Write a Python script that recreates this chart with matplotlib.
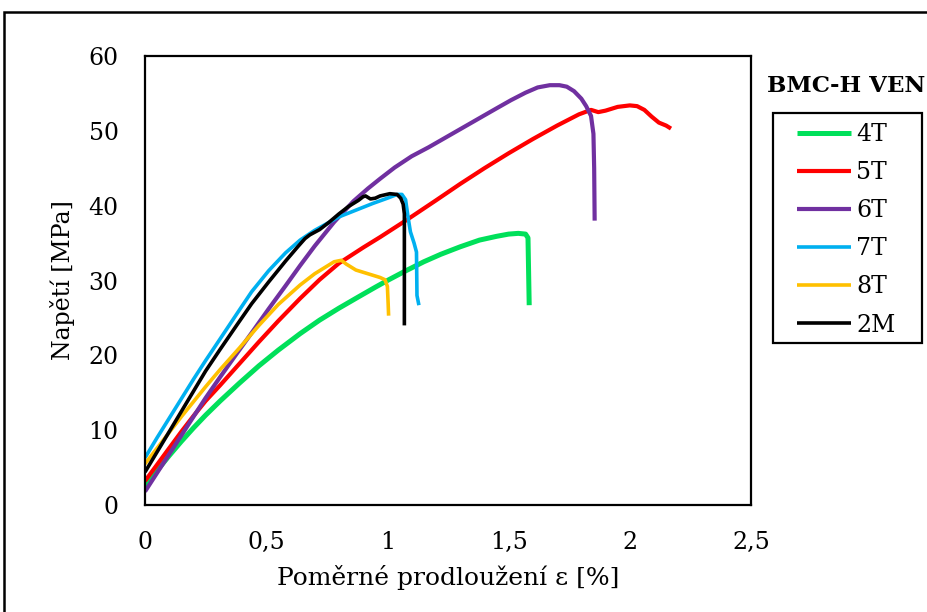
import matplotlib
matplotlib.use("Agg")
import matplotlib.pyplot as plt
from matplotlib.patches import Rectangle

plt.rcParams['font.family'] = ['DejaVu Serif']

# Strain [%] / stress [MPa] curves for each specimen
strain_4T = [0.0, 0.05, 0.10, 0.15, 0.20, 0.25, 0.31, 0.39, 0.47, 0.55, 0.64, 0.72, 0.80, 0.88, 0.95,
             1.00, 1.07, 1.15, 1.22, 1.30, 1.38, 1.45, 1.50, 1.54, 1.57, 1.58, 1.585]
stress_4T = [2.5, 4.6, 6.6, 8.5, 10.3, 12.0, 13.9, 16.3, 18.6, 20.7, 22.9, 24.7, 26.3, 27.8, 29.1,
             30.0, 31.2, 32.5, 33.5, 34.5, 35.4, 35.9, 36.2, 36.3, 36.2, 35.7, 26.7]

strain_5T = [0.0, 0.05, 0.10, 0.15, 0.20, 0.25, 0.31, 0.39, 0.47, 0.55, 0.64, 0.72, 0.80, 0.90, 0.97,
             1.08, 1.20, 1.30, 1.40, 1.50, 1.60, 1.70, 1.79, 1.84, 1.87, 1.90, 1.95, 2.00, 2.03,
             2.06, 2.09, 2.12, 2.15, 2.17]
stress_5T = [3.2, 5.4, 7.6, 9.8, 11.9, 13.9, 16.0, 18.9, 21.8, 24.6, 27.6, 30.1, 32.3, 34.4, 35.8,
             38.1, 40.7, 42.9, 45.0, 47.0, 48.9, 50.7, 52.2, 52.8, 52.5, 52.7, 53.2, 53.4, 53.3,
             52.8, 51.9, 51.1, 50.7, 50.3]

strain_6T = [0.0, 0.05, 0.10, 0.15, 0.20, 0.25, 0.31, 0.38, 0.44, 0.51, 0.58, 0.64, 0.70, 0.78, 0.86,
             0.92, 0.97, 1.03, 1.10, 1.17, 1.24, 1.31, 1.38, 1.45, 1.51, 1.57, 1.62, 1.67, 1.71,
             1.74, 1.77, 1.80, 1.82, 1.84, 1.85, 1.853, 1.855]
stress_6T = [1.8, 4.3, 6.8, 9.3, 11.8, 14.3, 17.1, 20.3, 23.0, 26.2, 29.3, 32.0, 34.6, 37.8, 40.6,
             42.3, 43.6, 45.1, 46.6, 47.8, 49.1, 50.4, 51.7, 53.0, 54.1, 55.1, 55.8, 56.1, 56.1,
             55.9, 55.3, 54.3, 53.3, 52.0, 49.6, 45.0, 38.0]

strain_7T = [0.0, 0.05, 0.10, 0.15, 0.20, 0.25, 0.31, 0.38, 0.44, 0.51, 0.58, 0.64, 0.70, 0.80, 0.87,
             0.94, 1.00, 1.04, 1.06, 1.075, 1.085, 1.095, 1.11, 1.12, 1.122, 1.13]
stress_7T = [6.3, 9.0, 11.6, 14.2, 16.8, 19.3, 22.2, 25.6, 28.5, 31.3, 33.7, 35.4, 36.7, 38.5, 39.4,
             40.3, 41.0, 41.5, 41.5, 40.8, 38.5, 36.5, 35.0, 33.8, 28.0, 26.7]

strain_8T = [0.0, 0.05, 0.10, 0.15, 0.20, 0.25, 0.31, 0.39, 0.47, 0.55, 0.64, 0.70, 0.75, 0.78, 0.81,
             0.83, 0.87, 0.92, 0.97, 0.99, 1.00, 1.003, 1.005]
stress_8T = [5.5, 7.6, 9.7, 11.8, 13.8, 15.8, 18.1, 21.0, 24.0, 26.8, 29.4, 30.9, 31.9, 32.5, 32.7,
             32.2, 31.4, 30.9, 30.4, 30.1, 29.2, 27.0, 25.3]

strain_2M = [0.0, 0.05, 0.10, 0.15, 0.20, 0.25, 0.31, 0.38, 0.44, 0.51, 0.58, 0.63, 0.66, 0.68, 0.72,
             0.76, 0.80, 0.84, 0.88, 0.90, 0.91, 0.93, 0.95, 0.97, 1.01, 1.04, 1.055, 1.065, 1.07, 1.07]
stress_2M = [4.4, 7.1, 9.8, 12.5, 15.2, 17.9, 20.8, 24.1, 26.9, 29.8, 32.6, 34.5, 35.6, 36.1, 36.8,
             37.8, 38.9, 39.9, 40.7, 41.2, 41.3, 40.9, 41.0, 41.3, 41.6, 41.5, 41.0, 40.2, 38.9, 24.0]

series = [
    ("4T", strain_4T, stress_4T, "#00E05A", 3.6),
    ("5T", strain_5T, stress_5T, "#FF0000", 3.0),
    ("6T", strain_6T, stress_6T, "#7030A0", 3.0),
    ("7T", strain_7T, stress_7T, "#00B0F0", 2.6),
    ("8T", strain_8T, stress_8T, "#FFC000", 2.6),
    ("2M", strain_2M, stress_2M, "#000000", 2.6),
]

x_ticks = [0, 0.5, 1, 1.5, 2, 2.5]
x_tick_labels = ["0", "0,5", "1", "1,5", "2", "2,5"]
y_ticks = [0, 10, 20, 30, 40, 50, 60]

W, H = 928, 612
fig = plt.figure(figsize=(W / 100, H / 100), dpi=100)
ax = fig.add_axes([145 / W, 1 - 505 / H, (751 - 145) / W, (505 - 56) / H])

for name, xs, ys, color, lw in series:
    ax.plot(xs, ys, color=color, lw=lw, label=name,
            solid_capstyle='butt', solid_joinstyle='round')

ax.set_xlim(0, 2.5)
ax.set_ylim(0, 60)
ax.set_xticks(x_ticks)
ax.set_xticklabels(x_tick_labels)
ax.set_yticks(y_ticks)
ax.tick_params(length=0, labelsize=17, pad=19)
for s in ax.spines.values():
    s.set_linewidth(1.6)
    s.set_color("black")

ax.set_xlabel("Poměrné prodloužení ε [%]", fontsize=18, labelpad=8)
ax.set_ylabel("Napětí [MPa]", fontsize=17, labelpad=10)

fig.text(846 / W, 1 - 86 / H, "BMC-H VEN", fontsize=16.5, fontweight="bold",
         ha="center", va="center")

# Legend entries, with a separate box drawn around them
leg = ax.legend(loc="upper left", bbox_to_anchor=(797 / W, 1 - 123 / H),
                bbox_transform=fig.transFigure, fontsize=17, frameon=False,
                borderaxespad=0, borderpad=0, handlelength=2.3,
                handletextpad=0.2, labelspacing=0.64)
fig.patches.append(Rectangle((773 / W, 1 - 343 / H), 149 / W, 230 / H,
                             transform=fig.transFigure, fill=False,
                             edgecolor="black", linewidth=1.6))

# Outer frame around the chart area
fig.patches.append(Rectangle((4 / W, -0.05), 1.1, 0.05 + (1 - 12 / H),
                             transform=fig.transFigure, fill=False,
                             edgecolor="black", linewidth=1.8, clip_on=False))

fig.savefig("out.png", dpi=100)
